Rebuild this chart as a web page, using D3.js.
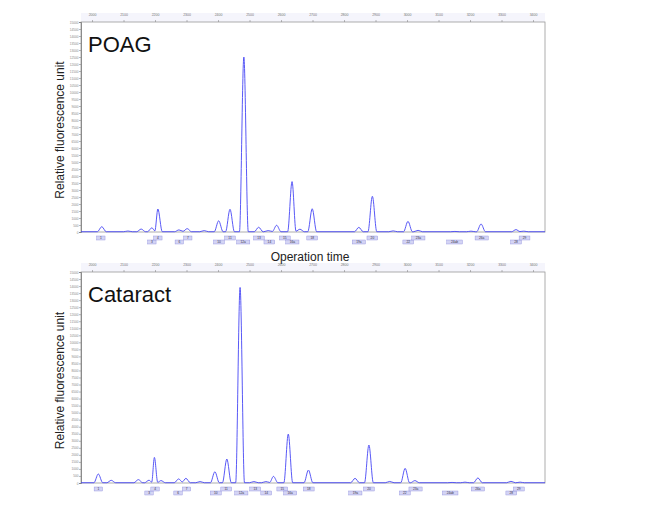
<!DOCTYPE html>
<html>
<head>
<meta charset="utf-8">
<script src="https://cdn.jsdelivr.net/npm/d3@7"></script>
<style>
  body { margin: 0; background: #fff; }
  text { font-family: Arial, "Liberation Sans", sans-serif; }
</style>
</head>
<body>
<div id="vis"></div>
<script>

// tick labels
const timeTicks = [2000, 2100, 2200, 2300, 2400, 2500, 2600, 2700, 2800, 2900, 3000, 3100, 3200, 3300, 3400];
const rfuTicks = d3.range(0, 15001, 500);

// POAG peaks (operation time, RFU)
const poagTime   = [2031, 2114, 2156, 2190, 2209, 2276, 2302, 2356, 2402, 2438, 2482, 2529, 2559, 2586, 2635, 2660, 2699, 2847, 2890, 2956, 3003, 3035, 3152, 3203, 3235, 3346, 3371];
const poagHeight = [380, 70, 210, 300, 1640, 150, 240, 100, 800, 1620, 12500, 340, 100, 480, 3600, 200, 1660, 330, 2550, 80, 760, 120, 40, 60, 570, 170, 60];

// Cataract peaks
const cataractTime   = [2020, 2061, 2147, 2181, 2198, 2219, 2275, 2298, 2343, 2390, 2428, 2470, 2514, 2552, 2576, 2623, 2687, 2835, 2879, 2945, 2994, 3025, 3143, 3184, 3225, 3330, 3359];
const cataractHeight = [640, 190, 240, 200, 1820, 170, 290, 330, 100, 800, 1700, 13900, 100, 100, 470, 3480, 920, 330, 2700, 110, 1040, 170, 40, 60, 360, 120, 60];

// peak annotation boxes
const poagLabelTime = [2028, 2190, 2209, 2277, 2304, 2403, 2438, 2480, 2530, 2563, 2612, 2636, 2699, 2847, 2890, 3004, 3036, 3151, 3237, 3346, 3373];
const poagLabelText = ['1', '3', '4', '6', '7', '10', '11', '12a', '13', '14', '15', '16a', '18', '19a', '20', '22', '23a', '24ab', '26a', '28', '29'];
const cataractLabelTime = [2020, 2181, 2200, 2273, 2300, 2393, 2426, 2474, 2518, 2553, 2604, 2629, 2688, 2836, 2879, 2993, 3027, 3137, 3225, 3331, 3355];
const cataractLabelText = ['1', '3', '4', '6', '7', '10', '11', '12a', '13', '14', '15', '16a', '18', '19a', '20', '22', '23a', '24ab', '26a', '28', '29'];

const W = 652, H = 517;
const left = 81, right = 545;
const hw = 14, base = 20;

const svg = d3.select('#vis').append('svg')
    .attr('width', W)
    .attr('height', H);

const x = d3.scaleLinear()
    .domain([1965, 3438])
    .range([left, right]);

function tracePoints(times, heights) {
    let pts = [[x.domain()[0], base]];
    times.forEach(function(t, i) {
        const h = heights[i];
        const prev = times[i - 1], next = times[i + 1];
        if (!(prev !== undefined && t - prev < 2 * hw)) pts.push([t - hw, base]);
        pts.push([t, h]);
        if (next !== undefined && next - t < 2 * hw) {
            pts.push([(t + next) / 2, base + 0.2 * Math.min(h, heights[i + 1])]);
        } else {
            pts.push([t + hw, base]);
        }
    });
    pts.push([x.domain()[1], base]);
    return pts;
}

function drawPanel(top, bottom, title, times, heights, labTimes, labTexts) {
    const g = svg.append('g');
    const y = d3.scaleLinear().domain([0, 15000]).range([bottom, top]);

    // faint header strip
    g.append('rect')
        .attr('x', left).attr('y', top - 9)
        .attr('width', right - left).attr('height', 9)
        .attr('fill', '#f5f5fc');

    // frame
    g.append('rect')
        .attr('x', left).attr('y', top)
        .attr('width', right - left).attr('height', bottom - top)
        .attr('fill', 'none')
        .attr('stroke', '#9a9a9a')
        .attr('stroke-width', 0.8);

    // top axis
    const xAxis = d3.axisTop(x)
        .tickValues(timeTicks)
        .tickSize(2)
        .tickFormat(d3.format('d'));
    const gx = g.append('g')
        .attr('transform', 'translate(0,' + top + ')')
        .call(xAxis);
    gx.select('.domain').remove();
    gx.selectAll('line').attr('stroke', '#777').attr('stroke-width', 0.5);
    gx.selectAll('text')
        .attr('font-size', 3.5)
        .attr('fill', '#777')
        .attr('dy', '-0.3em');

    // left axis
    const yAxis = d3.axisLeft(y)
        .tickValues(rfuTicks)
        .tickSize(2)
        .tickFormat(d3.format('d'));
    const gy = g.append('g')
        .attr('transform', 'translate(' + left + ',0)')
        .call(yAxis);
    gy.select('.domain').attr('stroke', '#777').attr('stroke-width', 0.8);
    gy.selectAll('line').attr('stroke', '#777').attr('stroke-width', 0.5);
    gy.selectAll('text')
        .attr('font-size', 3.2)
        .attr('fill', '#888')
        .attr('x', -2.5);

    // trace
    const line = d3.line()
        .x(d => x(d[0]))
        .y(d => y(d[1]))
        .curve(d3.curveMonotoneX);
    g.append('path')
        .datum(tracePoints(times, heights))
        .attr('d', line)
        .attr('fill', 'none')
        .attr('stroke', '#4646f5')
        .attr('stroke-width', 0.9);

    // peak label boxes, alternating rows
    const labs = g.selectAll('g.peaklab')
        .data(labTimes.map((t, i) => ({t: t, text: labTexts[i], row: (i % 2 === 1) ? 1 : 0})))
        .enter()
        .append('g')
        .attr('class', 'peaklab')
        .attr('transform', d => 'translate(' + x(d.t) + ',' + (bottom + 4 + d.row * 4) + ')');
    labs.append('rect')
        .attr('x', d => -(3 + d.text.length * 1.2))
        .attr('y', 0)
        .attr('width', d => 6 + d.text.length * 2.4)
        .attr('height', 4)
        .attr('fill', '#d4d4f4')
        .attr('stroke', '#8c8cdc')
        .attr('stroke-width', 0.4);
    labs.append('text')
        .attr('x', 0).attr('y', 3.2)
        .attr('text-anchor', 'middle')
        .attr('font-size', 3.2)
        .attr('fill', '#334')
        .text(d => d.text);

    // title
    g.append('text')
        .attr('x', 88).attr('y', top + 30)
        .attr('font-size', 22)
        .attr('fill', '#111')
        .text(title);

    // y label
    g.append('text')
        .attr('transform', 'translate(64,' + ((top + bottom) / 2 + 3) + ') rotate(-90)')
        .attr('text-anchor', 'middle')
        .attr('font-size', 12)
        .attr('fill', '#222')
        .text('Relative fluorescence unit');
}

drawPanel(22, 232, 'POAG', poagTime, poagHeight, poagLabelTime, poagLabelText);
drawPanel(272, 483, 'Cataract', cataractTime, cataractHeight, cataractLabelTime, cataractLabelText);

svg.append('text')
    .attr('x', 310).attr('y', 261)
    .attr('text-anchor', 'middle')
    .attr('font-size', 12)
    .attr('fill', '#222')
    .text('Operation time');

</script>
</body>
</html>
